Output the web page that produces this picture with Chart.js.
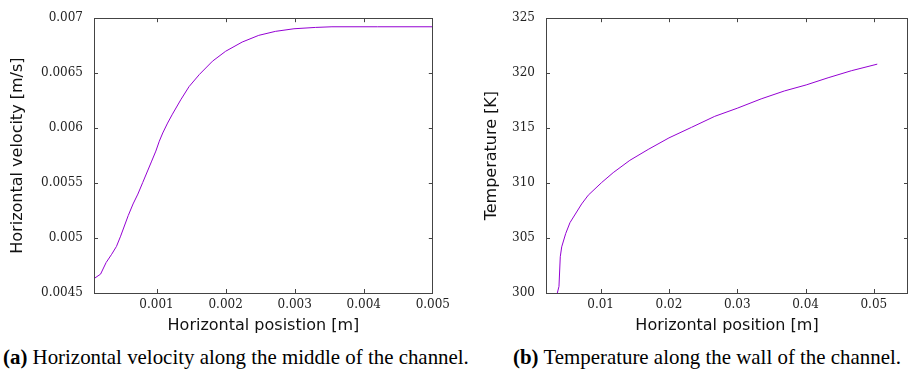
<!DOCTYPE html>
<html>
<head>
<meta charset="utf-8">
<script src="https://cdn.jsdelivr.net/npm/chart.js@4"></script>
<style>
  html, body { margin: 0; padding: 0; background: #fff; }
  body { width: 909px; height: 373px; position: relative; overflow: hidden; }
  .panel { position: absolute; top: 0; height: 340px; }
  #wrapA { left: 0; width: 455px; }
  #wrapB { left: 455px; width: 454px; }
  .caption {
    position: absolute; top: 345px; white-space: nowrap;
    font-family: "Liberation Serif", "Times New Roman", serif;
    font-size: 20.9px; color: #000; line-height: 24px;
  }
  #capA { left: 3px; }
  #capB { left: 513px; }
</style>
</head>
<body>
<div class="panel" id="wrapA"><canvas id="chartA" width="455" height="340"></canvas></div>
<div class="panel" id="wrapB"><canvas id="chartB" width="454" height="340"></canvas></div>
<div class="caption" id="capA"><b>(a)</b> Horizontal velocity along the middle of the channel.</div>
<div class="caption" id="capB"><b>(b)</b> Temperature along the wall of the channel.</div>

<script>
// (a) velocidad horizontal en el centro del canal
const velX = [0.0001, 0.00019, 0.00027, 0.00035, 0.00042, 0.00048, 0.00059, 0.00066, 0.00073, 0.0008,
              0.00087, 0.00093, 0.00099, 0.00104, 0.00109, 0.00116, 0.00123, 0.00135, 0.00147, 0.00162,
              0.00181, 0.002, 0.00224, 0.00248, 0.00272, 0.00299, 0.0033, 0.00354, 0.0042, 0.005];
const velY = [0.004633, 0.004672, 0.004777, 0.004852, 0.004924, 0.005017, 0.005204, 0.00531, 0.0054, 0.005505,
              0.00561, 0.0057, 0.005791, 0.005881, 0.005956, 0.006046, 0.006127, 0.006257, 0.006377, 0.006488,
              0.006609, 0.006699, 0.006783, 0.006844, 0.00688, 0.006904, 0.006916, 0.006922, 0.006922, 0.006922];
const velXTicks = [0.001, 0.002, 0.003, 0.004, 0.005];
const velXLabels = ['0.001', '0.002', '0.003', '0.004', '0.005'];
const velYTicks = [0.0045, 0.005, 0.0055, 0.006, 0.0065, 0.007];
const velYLabels = ['0.0045', '0.005', '0.0055', '0.006', '0.0065', '0.007'];

// (b) temperatura a lo largo de la pared
const tempX = [0.00366, 0.0039, 0.00409, 0.0043, 0.00488, 0.00551, 0.00722, 0.00819, 0.01015, 0.01184,
               0.01428, 0.01696, 0.02, 0.0233, 0.0267, 0.03, 0.0335, 0.0369, 0.0401, 0.0433, 0.0467, 0.0505];
const tempY = [300.0, 300.6, 303.3, 304.2, 305.4, 306.4, 308.1, 308.9, 310.05, 310.95,
               312.07, 313.06, 314.11, 315.07, 316.07, 316.81, 317.66, 318.38, 318.93, 319.58, 320.22, 320.82];
const tempXTicks = [0.01, 0.02, 0.03, 0.04, 0.05];
const tempXLabels = ['0.01', '0.02', '0.03', '0.04', '0.05'];
const tempYTicks = [300, 305, 310, 315, 320, 325];
const tempYLabels = ['300', '305', '310', '315', '320', '325'];

const LINE_COLOR = '#9400d3';
const FRAME_COLOR = '#444444';
const TICK_FONT = { family: '"DejaVu Serif", "Liberation Serif", serif', size: 12 };
const TITLE_FONT = { family: '"DejaVu Sans", sans-serif', size: 16 };

// marco estilo gnuplot con marcas hacia dentro en los cuatro lados
const framePlugin = {
    id: 'frame',
    afterDatasetsDraw(chart) {
        const { ctx, chartArea: a, scales } = chart;
        const len = 4;
        ctx.save();
        ctx.strokeStyle = FRAME_COLOR;
        ctx.lineWidth = 1;
        ctx.beginPath();
        scales.x.ticks.forEach(t => {
            const px = Math.round(scales.x.getPixelForValue(t.value)) + 0.5;
            if (px < a.left + 2 || px > a.right - 2) return; // ya lo cubre el borde
            ctx.moveTo(px, a.bottom); ctx.lineTo(px, a.bottom - len);
            ctx.moveTo(px, a.top); ctx.lineTo(px, a.top + len);
        });
        scales.y.ticks.forEach(t => {
            const py = Math.round(scales.y.getPixelForValue(t.value)) + 0.5;
            if (py < a.top + 2 || py > a.bottom - 2) return;
            ctx.moveTo(a.left, py); ctx.lineTo(a.left + len, py);
            ctx.moveTo(a.right, py); ctx.lineTo(a.right - len, py);
        });
        ctx.stroke();
        ctx.strokeRect(Math.round(a.left) + 0.5, Math.round(a.top) + 0.5,
                       Math.round(a.right - a.left) - 1, Math.round(a.bottom - a.top));
        ctx.restore();
    }
};

function makeChart(canvasId, xs, ys, cfg) {
    const canvas = document.getElementById(canvasId);
    if (!canvas) return null;
    const points = xs.map((x, i) => ({ x: x, y: ys[i] }));

    return new Chart(canvas.getContext('2d'), {
        type: 'line',
        data: {
            datasets: [{
                data: points,
                borderColor: LINE_COLOR,
                borderWidth: 1,
                pointRadius: 0,
                tension: 0,
                fill: false
            }]
        },
        options: {
            responsive: false,
            animation: false,
            events: [],
            layout: { padding: cfg.padding },
            plugins: { legend: { display: false }, tooltip: { enabled: false } },
            scales: {
                x: {
                    type: 'linear',
                    min: cfg.xMin,
                    max: cfg.xMax,
                    grid: { display: false, drawTicks: false },
                    border: { display: false },
                    afterBuildTicks: s => { s.ticks = cfg.xTicks.map(v => ({ value: v })); },
                    afterFit: s => { s.height = cfg.xAxisHeight; },
                    ticks: {
                        padding: 5,
                        maxRotation: 0,
                        autoSkip: false,
                        color: '#222',
                        font: TICK_FONT,
                        callback: (v, i) => cfg.xLabels[i]
                    },
                    title: {
                        display: true,
                        text: cfg.xTitle,
                        color: '#111',
                        font: TITLE_FONT,
                        padding: { top: 0, bottom: 0 }
                    }
                },
                y: {
                    type: 'linear',
                    min: cfg.yMin,
                    max: cfg.yMax,
                    grid: { display: false, drawTicks: false },
                    border: { display: false },
                    afterBuildTicks: s => { s.ticks = cfg.yTicks.map(v => ({ value: v })); },
                    afterFit: s => { s.width = cfg.yAxisWidth; },
                    ticks: {
                        padding: 11,
                        autoSkip: false,
                        color: '#222',
                        font: TICK_FONT,
                        callback: (v, i) => cfg.yLabels[i]
                    },
                    title: {
                        display: true,
                        text: cfg.yTitle,
                        color: '#111',
                        font: TITLE_FONT,
                        padding: { top: cfg.yTitlePad, bottom: 0 }
                    }
                }
            }
        },
        plugins: [framePlugin]
    });
}

makeChart('chartA', velX, velY, {
    xMin: 0.0000946, xMax: 0.005, yMin: 0.0045, yMax: 0.007,
    xTicks: velXTicks, xLabels: velXLabels, yTicks: velYTicks, yLabels: velYLabels,
    xTitle: 'Horizontal posistion [m]', yTitle: 'Horizontal velocity [m/s]',
    padding: { left: 0, right: 21, top: 16, bottom: 5 },
    xAxisHeight: 42, yAxisWidth: 94, yTitlePad: 8.4
});

makeChart('chartB', tempX, tempY, {
    xMin: 0.002, xMax: 0.055, yMin: 300, yMax: 325,
    xTicks: tempXTicks, xLabels: tempXLabels, yTicks: tempYTicks, yLabels: tempYLabels,
    xTitle: 'Horizontal position [m]', yTitle: 'Temperature [K]',
    padding: { left: 0, right: 1, top: 16, bottom: 5 },
    xAxisHeight: 42, yAxisWidth: 91, yTitlePad: 27
});
</script>
</body>
</html>
